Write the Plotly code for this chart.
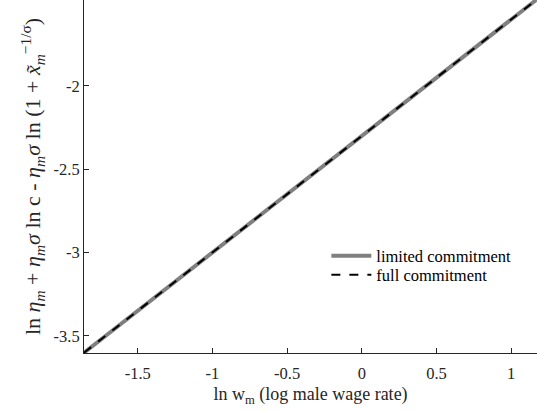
import plotly.graph_objects as go

# data
ln_wm = [-1.86, -1.5, -1.0, -0.5, 0.0, 0.5, 1.0, 1.17]
y_limited = [-3.600, -3.349, -2.999, -2.650, -2.300, -1.951, -1.602, -1.483]
y_full = [-3.600, -3.349, -2.999, -2.650, -2.300, -1.951, -1.602, -1.483]

x_ticks = [-1.5, -1, -0.5, 0, 0.5, 1]
x_ticklabels = ["-1.5", "-1", "-0.5", "0", "0.5", "1"]
y_ticks = [-3.5, -3, -2.5, -2]
y_ticklabels = ["-3.5", "-3", "-2.5", "-2"]

FONT = "Liberation Serif"
AX = "#262626"

fig = go.Figure()
fig.add_trace(go.Scatter(x=ln_wm, y=y_limited, mode="lines", name="limited commitment",
                         line=dict(color="#808080", width=4), legend="legend"))
fig.add_trace(go.Scatter(x=ln_wm, y=y_full, mode="lines", name="full commitment",
                         line=dict(color="black", width=2, dash="dash"), legend="legend2"))

leg_common = dict(xanchor="left", yanchor="middle", bgcolor="rgba(0,0,0,0)",
                  font=dict(family=FONT, size=16.5, color="black"), itemwidth=40)

fig.update_layout(
    width=537, height=412,
    margin=dict(l=84, r=0, t=0, b=59),
    plot_bgcolor="white", paper_bgcolor="white",
    font=dict(family=FONT, size=16.5, color=AX),
    showlegend=True,
    legend=dict(x=0.535, y=(353 - 256) / 353, **leg_common),
    legend2=dict(x=0.535, y=(353 - 275) / 353, **leg_common),
)
fig.update_xaxes(
    range=[-1.86, 1.173], tickvals=x_ticks, ticktext=x_ticklabels,
    tickfont=dict(family=FONT, size=16.5, color=AX),
    showline=True, linecolor=AX, linewidth=1, ticks="inside", ticklen=5, tickcolor=AX,
    showgrid=False, zeroline=False, ticklabelstandoff=5,
    title=dict(text="ln w<sub>m</sub> (log male wage rate)", font=dict(family=FONT, size=18, color=AX), standoff=5),
)
fig.update_yaxes(
    range=[-3.602, -1.485], tickvals=y_ticks, ticktext=y_ticklabels,
    tickfont=dict(family=FONT, size=16.5, color=AX),
    showline=True, linecolor=AX, linewidth=1, ticks="inside", ticklen=5, tickcolor=AX,
    showgrid=False, zeroline=False,
    title=dict(text="ln <i>η<sub>m</sub></i> + <i>η<sub>m</sub>σ</i> ln c - <i>η<sub>m</sub>σ</i> ln (1 + <i>x̃<sub>m</sub></i><sup>−1/σ</sup>)",
               font=dict(family=FONT, size=22, color=AX), standoff=6),
)

fig.write_html("out.html")
